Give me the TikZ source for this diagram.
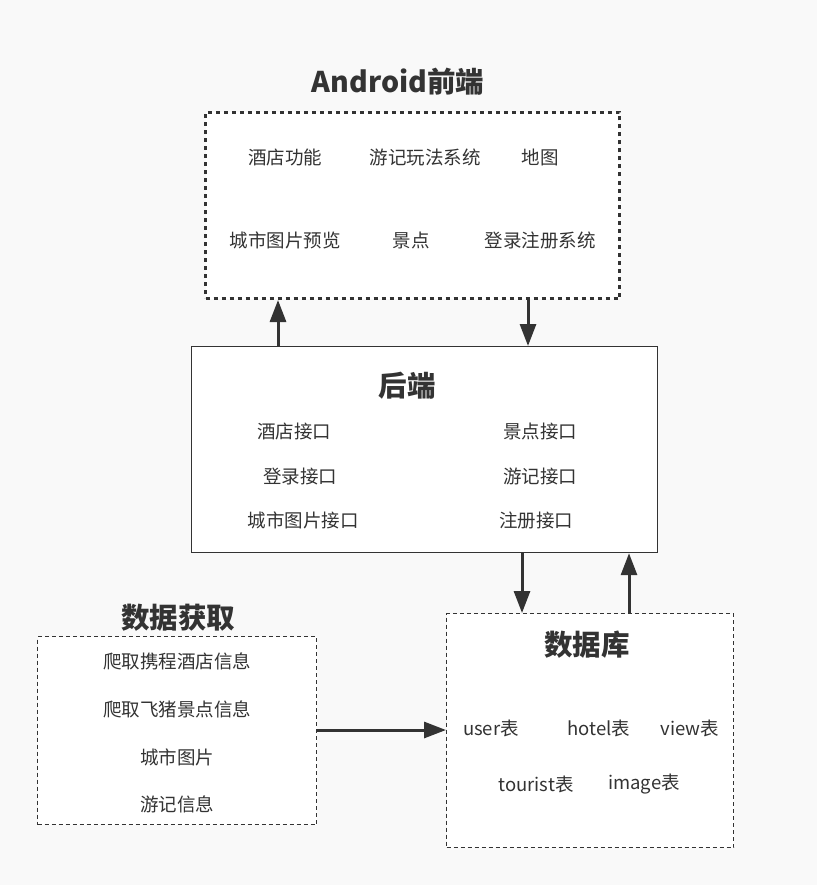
\documentclass[tikz,border=0pt]{standalone}
\usepackage{fontspec}
\setmainfont{Noto Sans CJK SC}
\usetikzlibrary{arrows.meta}
\definecolor{bgc}{HTML}{F9F9F9}
\definecolor{inkc}{HTML}{333333}
\tikzset{
  box/.style={draw=inkc,fill=white,anchor=north west,inner sep=0pt},
  item/.style={text=inkc,font=\fontsize{18.5}{20}\selectfont,inner sep=0pt},
  head/.style={text=inkc,font=\fontsize{28.5}{30}\selectfont\bfseries,inner sep=0pt},
  link/.style={->,draw=inkc,fill=inkc,line width=3pt},
}
\begin{document}
\begin{tikzpicture}[x=1pt,y=-1pt,>={Triangle[length=22pt,width=16pt]},line width=1.2pt]
            \fill[bgc] (0,0) rectangle (817,885);
            \useasboundingbox (0,0) rectangle (817,885);
            % front end
            \node[head] (fronthead) at (398,82) {Android前端};
            \node[box,line width=3pt,dash pattern=on 4pt off 4pt,minimum width=414pt,minimum height=186pt] (front) at (204,111) {};
            \node[item] (f1) at (285,157) {酒店功能};
            \node[item] (f2) at (425,157) {游记玩法系统};
            \node[item] (f3) at (540,157) {地图};
            \node[item] (f4) at (285,240) {城市图片预览};
            \node[item] (f5) at (411,240) {景点};
            \node[item] (f6) at (540,240) {登录注册系统};
            % back end
            \node[box,minimum width=466pt,minimum height=206pt] (back) at (191,346) {};
            \node[head] (backhead) at (407,386) {后端};
            \node[item] (b1) at (294,431) {酒店接口};
            \node[item] (b2) at (540,431) {景点接口};
            \node[item] (b3) at (300,476) {登录接口};
            \node[item] (b4) at (540,476) {游记接口};
            \node[item] (b5) at (303,520) {城市图片接口};
            \node[item] (b6) at (536,520) {注册接口};
            % data collection
            \node[head] (crawlhead) at (178,618) {数据获取};
            \node[box,dash pattern=on 4pt off 3pt,minimum width=279pt,minimum height=188pt] (crawl) at (37,636) {};
            \node[item] (c1) at (177,661) {爬取携程酒店信息};
            \node[item] (c2) at (177,709) {爬取飞猪景点信息};
            \node[item] (c3) at (177,757) {城市图片};
            \node[item] (c4) at (177,804) {游记信息};
            % database
            \node[box,dash pattern=on 4pt off 3pt,minimum width=287pt,minimum height=234pt] (db) at (446,613) {};
            \node[head] (dbhead) at (587,645) {数据库};
            \node[item] (d1) at (491,728) {user表};
            \node[item] (d2) at (599,728) {hotel表};
            \node[item] (d3) at (690,728) {view表};
            \node[item] (d4) at (536,784) {tourist表};
            \node[item] (d5) at (644,784) {image表};
            % arrows
            \coordinate (up1) at (278,0);
            \coordinate (dn1) at (528,0);
            \coordinate (dn2) at (522,0);
            \coordinate (up2) at (629,0);
            \coordinate (mid) at (0,730);
            \draw[link] (back.north -| up1) -- (front.south -| up1);
            \draw[link] (front.south -| dn1) -- (back.north -| dn1);
            \draw[link] (back.south -| dn2) -- (db.north -| dn2);
            \draw[link] (db.north -| up2) -- (back.south -| up2);
            \draw[link] (crawl.east |- mid) -- (db.west |- mid);
        \end{tikzpicture}
\end{document}
